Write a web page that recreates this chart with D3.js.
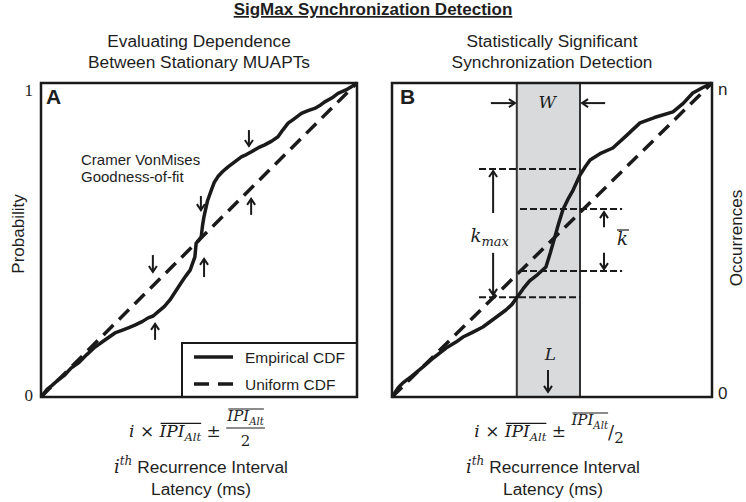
<!DOCTYPE html>
<html lang="en">
<head>
<meta charset="utf-8">
<script src="https://d3js.org/d3.v7.min.js"></script>
<style>
body { margin: 0; background: #fff; }
svg text { fill: #1e1e1e; white-space: pre; }
</style>
</head>
<body>
<script>
var width = 746, height = 502;
var sans = '"Liberation Sans", Arial, sans-serif';
var serif = '"DejaVu Serif", "Liberation Serif", serif';
var ink = "#1a1a1a";

// empirical CDF in panel A, x = fraction of the interval, y = probability
var cdfX = [0, .02, .035, .054, .075, .095, .12, .145, .171, .2, .234, .26, .28, .297, .32, .339, .355, .370, .39, .408, .425, .443, .458, .472, .487, .491, .500, .507, .511, .515, .518, .527, .539, .548, .560, .575, .592, .612, .634, .650, .666, .688, .708, .730, .750, .765, .782, .800, .824, .845, .866, .885, .898, .92, .940, .965, .985, 1];
var cdfY = [0, .025, .037, .054, .07, .092, .11, .135, .159, .18, .204, .214, .222, .229, .24, .252, .258, .271, .288, .309, .335, .363, .385, .404, .446, .49, .50, .51, .545, .57, .585, .625, .659, .683, .702, .718, .733, .748, .765, .772, .781, .794, .803, .815, .829, .850, .872, .885, .903, .912, .919, .93, .940, .952, .967, .978, .99, 1];
// empirical CDF in panel B (occurrences / n)
var cdfXB = [0, .02, .034, .06, .097, .13, .169, .2, .222, .25, .284, .32, .356, .375, .391, .41, .43, .455, .481, .495, .509, .52, .534, .55, .566, .5875, .605, .619, .65, .69, .73, .775, .82, .878, .91, .94, .97, 1];
var cdfYB = [0, .03, .045, .065, .096, .125, .156, .175, .191, .205, .223, .25, .277, .295, .318, .345, .37, .39, .414, .46, .51, .55, .596, .63, .659, .707, .735, .755, .775, .793, .83, .873, .89, .908, .935, .968, .985, 1];
// uniform CDF
var uniX = [0, 1];
var uniY = [0, 1];

var ticksA = ["0", "1"];
var ticksB = ["0", "n"];
var legendLabels = ["Empirical CDF", "Uniform CDF"];

// panel B annotations (same units as the CDF)
var windowBand = [0.39, 0.5875];
var kmaxLevels = [0.318, 0.726];
var kmaxSpan = [0.272, 0.5875];
var kbarLevels = [0.401, 0.599];
var kbarSpan = [0.40, 0.719];

// arrows: [x, yTail, yTip]
var arrowsA = [
  [0.658, 0.850, 0.796],
  [0.506, 0.640, 0.592],
  [0.665, 0.580, 0.634],
  [0.516, 0.382, 0.443],
  [0.354, 0.452, 0.395],
  [0.361, 0.182, 0.236]
];
var arrowsB = [
  [0.316, 0.586, 0.723],
  [0.316, 0.459, 0.322],
  [0.6625, 0.541, 0.592],
  [0.6625, 0.459, 0.404],
  [0.4875, 0.086, 0.013]
];
// horizontal arrows on W: [y, xTail, xTip]
var arrowsW = [
  [0.936, 0.309, 0.381],
  [0.936, 0.666, 0.597]
];

var svg = d3.select("body").append("svg")
  .attr("width", width)
  .attr("height", height);

svg.append("defs").append("marker")
  .attr("id", "head")
  .attr("viewBox", "-8 -5 10 10")
  .attr("refX", 0).attr("refY", 0)
  .attr("markerWidth", 10).attr("markerHeight", 10)
  .attr("markerUnits", "userSpaceOnUse")
  .attr("orient", "auto")
  .append("path")
  .attr("d", "M-6,-4L0,0L-6,4")
  .attr("fill", "none")
  .attr("stroke", ink)
  .attr("stroke-width", 2);

var y = d3.scaleLinear().domain([0, 1]).range([397, 83]);
var xA = d3.scaleLinear().domain([0, 1]).range([41, 357]);
var xB = d3.scaleLinear().domain([0, 1]).range([392, 712]);

// title
svg.append("text")
  .attr("x", 373).attr("y", 15)
  .attr("text-anchor", "middle")
  .style("font-family", sans).style("font-size", "17px").style("font-weight", "bold")
  .style("text-decoration", "underline")
  .text("SigMax Synchronization Detection");

function subtitle(cx, lines) {
  lines.forEach(function(l, i) {
    svg.append("text")
      .attr("x", cx).attr("y", 47 + i * 21)
      .attr("text-anchor", "middle")
      .style("font-family", sans).style("font-size", "17.3px")
      .text(l);
  });
}
subtitle(199, ["Evaluating Dependence", "Between Stationary MUAPTs"]);
subtitle(552, ["Statistically Significant", "Synchronization Detection"]);

function cdfLine(x) {
  return d3.line().x(function(d) { return x(d[0]); }).y(function(d) { return y(d[1]); });
}

function drawCurves(x, cx, cy) {
  svg.append("path")
    .datum(d3.zip(uniX, uniY))
    .attr("d", cdfLine(x))
    .attr("fill", "none").attr("stroke", ink)
    .attr("stroke-width", 3.5).attr("stroke-dasharray", "14,8");
  svg.append("path")
    .datum(d3.zip(cx, cy))
    .attr("d", cdfLine(x))
    .attr("fill", "none").attr("stroke", ink)
    .attr("stroke-width", 3.5).attr("stroke-linejoin", "round");
}

function vArrow(x, a) {
  svg.append("line")
    .attr("x1", x(a[0])).attr("x2", x(a[0]))
    .attr("y1", y(a[1])).attr("y2", y(a[2]) + (a[2] > a[1] ? 1 : -1))
    .attr("stroke", ink).attr("stroke-width", 2)
    .attr("marker-end", "url(#head)");
}

function frame(x) {
  svg.append("rect")
    .attr("x", x(0)).attr("y", y(1))
    .attr("width", x(1) - x(0)).attr("height", y(0) - y(1))
    .attr("fill", "none").attr("stroke", ink).attr("stroke-width", 2.5);
}

function panelLetter(x0, s) {
  svg.append("text")
    .attr("x", x0).attr("y", 104)
    .style("font-family", sans).style("font-size", "21px").style("font-weight", "bold")
    .text(s);
}

function piece(g, x, yy, str, size, italic, fam) {
  var t = g.append("text")
    .attr("x", x).attr("y", yy)
    .style("font-family", fam || serif)
    .style("font-size", size + "px")
    .style("font-style", italic ? "italic" : "normal")
    .text(str);
  return t.node().getComputedTextLength();
}

function ipiAlt(g, x, yy, size) {
  var w1 = piece(g, x, yy, "IPI", size, true);
  var w2 = piece(g, x + w1, yy + size * 0.25, "Alt", size * 0.68, true);
  g.append("line")
    .attr("x1", x + 1).attr("x2", x + w1 + w2)
    .attr("y1", yy - size * 0.8).attr("y2", yy - size * 0.8)
    .attr("stroke", ink).attr("stroke-width", 1.1);
  return w1 + w2;
}

function centerGroup(g, cx) {
  var b = g.node().getBBox();
  g.attr("transform", "translate(" + (cx - b.x - b.width / 2) + ",0)");
}

// ---------- panel A ----------
svg.append("rect")
  .attr("x", xA(0)).attr("y", y(1))
  .attr("width", xA(1) - xA(0)).attr("height", y(0) - y(1))
  .attr("fill", "#fff");
drawCurves(xA, cdfX, cdfY);
arrowsA.forEach(function(a) { vArrow(xA, a); });

svg.append("text").attr("x", 81).attr("y", 165)
  .style("font-family", sans).style("font-size", "15px").text("Cramer VonMises");
svg.append("text").attr("x", 81).attr("y", 182)
  .style("font-family", sans).style("font-size", "15px").text("Goodness-of-fit");

// legend
var lg = svg.append("g");
lg.append("rect")
  .attr("x", 182).attr("y", 343)
  .attr("width", xA(1) - 182).attr("height", y(0) - 343)
  .attr("fill", "#fff").attr("stroke", ink).attr("stroke-width", 2);
legendLabels.forEach(function(l, i) {
  var ly = 357 + i * 27;
  lg.append("line")
    .attr("x1", 194).attr("x2", 233).attr("y1", ly).attr("y2", ly)
    .attr("stroke", ink).attr("stroke-width", 3.5)
    .attr("stroke-dasharray", i === 0 ? null : "15,9");
  lg.append("text")
    .attr("x", 245).attr("y", ly + 6)
    .style("font-family", sans).style("font-size", "15.5px")
    .text(l);
});

frame(xA);
panelLetter(46, "A");

var axA = svg.append("g")
  .attr("transform", "translate(" + xA(0) + ",0)")
  .call(d3.axisLeft(y).tickValues([0, 1]).tickSize(0).tickPadding(8)
    .tickFormat(function(d) { return ticksA[d]; }));
axA.select(".domain").remove();
axA.selectAll("text")
  .style("font-family", '"Liberation Serif", serif').style("font-size", "17px")
  .attr("fill", "#1e1e1e")
  .attr("dy", function(d) { return d === 1 ? "12px" : "3px"; });

svg.append("text")
  .attr("transform", "translate(24,234) rotate(-90)")
  .attr("text-anchor", "middle")
  .style("font-family", sans).style("font-size", "17px")
  .text("Probability");

// ---------- panel B ----------
svg.append("rect")
  .attr("x", xB(0)).attr("y", y(1))
  .attr("width", xB(1) - xB(0)).attr("height", y(0) - y(1))
  .attr("fill", "#fff");
svg.append("rect")
  .attr("x", xB(windowBand[0])).attr("y", y(1))
  .attr("width", xB(windowBand[1]) - xB(windowBand[0])).attr("height", y(0) - y(1))
  .attr("fill", "#d9dadc").attr("stroke", "#333").attr("stroke-width", 2);
drawCurves(xB, cdfXB, cdfYB);

kmaxLevels.forEach(function(v) {
  svg.append("line")
    .attr("x1", xB(kmaxSpan[0])).attr("x2", xB(kmaxSpan[1]))
    .attr("y1", y(v)).attr("y2", y(v))
    .attr("stroke", ink).attr("stroke-width", 2).attr("stroke-dasharray", "7,3");
});
kbarLevels.forEach(function(v) {
  svg.append("line")
    .attr("x1", xB(kbarSpan[0])).attr("x2", xB(kbarSpan[1]))
    .attr("y1", y(v)).attr("y2", y(v))
    .attr("stroke", ink).attr("stroke-width", 2).attr("stroke-dasharray", "7,3");
});
arrowsB.forEach(function(a) { vArrow(xB, a); });
arrowsW.forEach(function(a) {
  svg.append("line")
    .attr("x1", xB(a[1])).attr("x2", xB(a[2]) + (a[2] > a[1] ? 1 : -1))
    .attr("y1", y(a[0])).attr("y2", y(a[0]))
    .attr("stroke", ink).attr("stroke-width", 2)
    .attr("marker-end", "url(#head)");
});

var gw = svg.append("g");
piece(gw, 0, 108, "W", 17, true);
centerGroup(gw, xB(0.4875));
var gl = svg.append("g");
piece(gl, 0, 360, "L", 17, true);
centerGroup(gl, xB(0.4875) + 2);

var gk = svg.append("g");
var wk = piece(gk, 0, 242, "k", 18, true);
piece(gk, wk, 246, "max", 13, true);
centerGroup(gk, 490);

var gkb = svg.append("g");
var wkb = piece(gkb, 0, 245, "k", 18, true);
gkb.append("line").attr("x1", 0).attr("x2", wkb + 1).attr("y1", 230).attr("y2", 230)
  .attr("stroke", ink).attr("stroke-width", 1.2);
centerGroup(gkb, 623);

frame(xB);
panelLetter(400, "B");

var axB = svg.append("g")
  .attr("transform", "translate(" + xB(1) + ",0)")
  .call(d3.axisRight(y).tickValues([0, 1]).tickSize(0).tickPadding(6)
    .tickFormat(function(d) { return ticksB[d]; }));
axB.select(".domain").remove();
axB.selectAll("text")
  .style("font-family", sans).style("font-size", "17px")
  .attr("fill", "#1e1e1e")
  .attr("dy", function(d) { return d === 1 ? "11px" : "1px"; });

svg.append("text")
  .attr("transform", "translate(742,238) rotate(-90)")
  .attr("text-anchor", "middle")
  .style("font-family", sans).style("font-size", "17px")
  .text("Occurrences");

// ---------- bottom formulas ----------
var fs = 17;
var fA = svg.append("g");
var cx = 0;
cx += piece(fA, cx, 437, "i", fs, true);
cx += piece(fA, cx, 437, " × ", fs, false);
cx += ipiAlt(fA, cx, 437, fs);
cx += piece(fA, cx, 437, " ± ", fs, false);
var wn = ipiAlt(fA, cx + 1, 421, 15);
fA.append("line").attr("x1", cx).attr("x2", cx + wn + 2).attr("y1", 428).attr("y2", 428)
  .attr("stroke", ink).attr("stroke-width", 1);
var w2 = piece(fA, 0, 446, "2", 15, false);
fA.select("text:last-child").attr("x", cx + 1 + wn / 2 - w2 / 2);
centerGroup(fA, 197);

var fB = svg.append("g");
cx = 0;
cx += piece(fB, cx, 437, "i", fs, true);
cx += piece(fB, cx, 437, " × ", fs, false);
cx += ipiAlt(fB, cx, 437, fs);
cx += piece(fB, cx, 437, " ± ", fs, false);
cx += ipiAlt(fB, cx, 425, 15);
cx += piece(fB, cx, 439, "/", 18, false);
piece(fB, cx, 443, "2", 15, false);
centerGroup(fB, 549);

function bottomLabel(center) {
  var g = svg.append("g");
  var w = piece(g, 0, 473, "i", 18, true);
  w += piece(g, w, 465, "th", 12, true);
  piece(g, w, 473, " Recurrence Interval", 17.3, false, sans);
  centerGroup(g, center);
  svg.append("text")
    .attr("x", center).attr("y", 495)
    .attr("text-anchor", "middle")
    .style("font-family", sans).style("font-size", "17.3px")
    .text("Latency (ms)");
}
bottomLabel(201);
bottomLabel(553);
</script>
</body>
</html>
